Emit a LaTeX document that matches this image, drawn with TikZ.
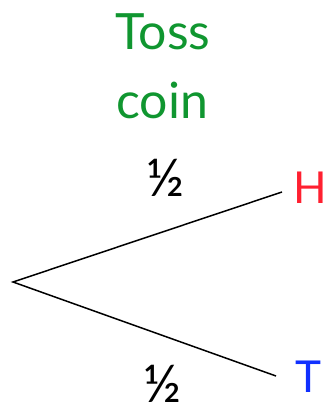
\documentclass[tikz,border=0pt]{standalone}
\usepackage{fontspec}
\setmainfont{Lato}
\definecolor{tossgreen}{RGB}{16,150,48}
\definecolor{hred}{RGB}{255,32,48}
\definecolor{tblue}{RGB}{16,48,255}
\begin{document}
\begin{tikzpicture}[x=1pt,y=-1pt,
  title/.style={text=tossgreen,font=\fontsize{50}{60}\selectfont,anchor=base,inner sep=0pt},
  outcome/.style={font=\fontsize{44}{52}\selectfont,anchor=base,inner sep=0pt},
  prob/.style={font=\fontsize{52}{60}\selectfont,anchor=center,inner sep=0pt},
  branch/.style={line width=1.5pt}]
\useasboundingbox (0,0) rectangle (332,412);
\node[title] (toss) at (163,50) {Toss};
\node[title] (coin) at (162,118) {coin};
\coordinate (root) at (13,282);
\coordinate (hend) at (282,192);
\coordinate (tend) at (276,376);
\node[outcome,text=hred] (H) at (310,203) {H};
\node[outcome,text=tblue] (T) at (308,392) {T};
\node[prob] (ph) at (165,178) {½};
\node[prob] (pt) at (162,384) {½};
\draw[branch] (hend) -- (root) -- (tend);
\end{tikzpicture}
\end{document}
